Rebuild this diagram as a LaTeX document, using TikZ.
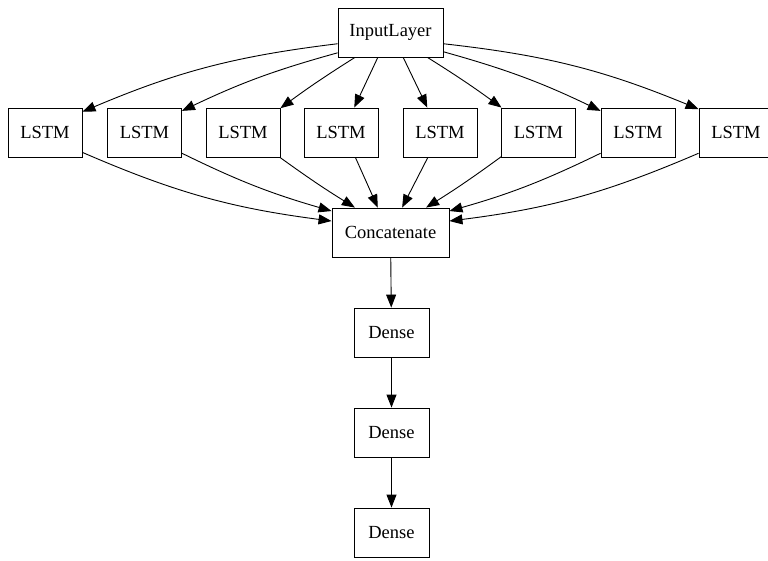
\documentclass[tikz,border=0pt]{standalone}
\usepackage{fontspec}
\setmainfont{Liberation Serif}
\usetikzlibrary{arrows.meta}

\begin{document}
\begin{tikzpicture}[x=1pt, y=-1pt,
        layer/.style={draw, line width=0.9pt, inner sep=0pt, minimum height=49pt,
            font=\fontsize{18.5}{20}\selectfont},
        edge/.style={line width=0.9pt, -{Triangle[length=13pt, width=10pt]}}]

        \useasboundingbox (0,0) rectangle (768,560);

        \node[layer, minimum width=105pt] (inp) at (390.5,32.5) {InputLayer};

        \node[layer, minimum width=74pt] (lstmA) at (45,132.5) {LSTM};
        \node[layer, minimum width=74pt] (lstmB) at (144.5,132.5) {LSTM};
        \node[layer, minimum width=74pt] (lstmC) at (243,132.5) {LSTM};
        \node[layer, minimum width=74pt] (lstmD) at (341,132.5) {LSTM};
        \node[layer, minimum width=74pt] (lstmE) at (440,132.5) {LSTM};
        \node[layer, minimum width=74pt] (lstmF) at (538.5,132.5) {LSTM};
        \node[layer, minimum width=74pt] (lstmG) at (638,132.5) {LSTM};
        \node[layer, minimum width=74pt] (lstmH) at (736,132.5) {LSTM};

        \node[layer, minimum width=117pt] (concat) at (390.5,232.5) {Concatenate};

        \node[layer, minimum width=75pt] (denseA) at (391.5,332.5) {Dense};
        \node[layer, minimum width=75pt] (denseB) at (391.5,432.5) {Dense};
        \node[layer, minimum width=75pt] (denseC) at (391.5,532.5) {Dense};

        % input to the lstm layers
        \draw[edge] (inp.192) to[bend right=8] (lstmA.29);
        \draw[edge] (inp.201) to[bend right=5] (lstmB.30);
        \draw[edge] (inp.215) to[bend right=2] (lstmC.33);
        \draw[edge] (inp.243) -- (lstmD.62);
        \draw[edge] (inp.297) -- (lstmE.117);
        \draw[edge] (inp.326) to[bend left=2] (lstmF.146);
        \draw[edge] (inp.340) to[bend left=5] (lstmG.150);
        \draw[edge] (inp.348) to[bend left=8] (lstmH.148);

        % lstm layers to concatenate
        \draw[edge] (lstmA.332) to[bend right=8] (concat.169);
        \draw[edge] (lstmB.331) to[bend right=5] (concat.160);
        \draw[edge] (lstmC.326) to[bend right=2] (concat.145);
        \draw[edge] (lstmD.300) -- (concat.117);
        \draw[edge] (lstmE.244) -- (concat.65);
        \draw[edge] (lstmF.213) to[bend left=2] (concat.35);
        \draw[edge] (lstmG.209) to[bend left=5] (concat.20);
        \draw[edge] (lstmH.209) to[bend left=8] (concat.11);

        \draw[edge] (concat) -- (denseA);
        \draw[edge] (denseA) -- (denseB);
        \draw[edge] (denseB) -- (denseC);
    \end{tikzpicture}
\end{document}
